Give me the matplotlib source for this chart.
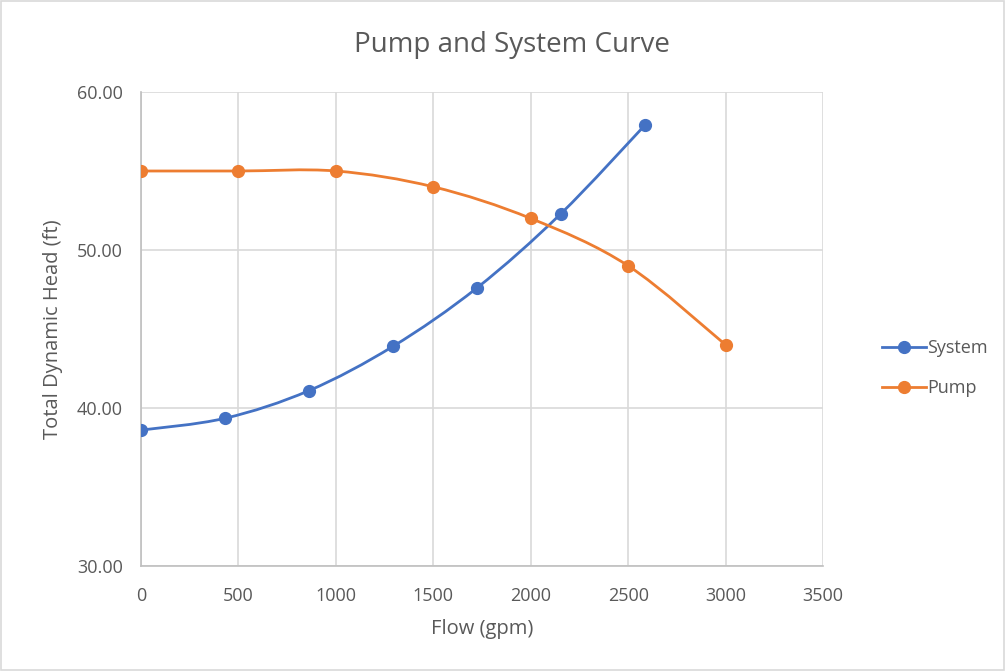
import numpy as np
from matplotlib import pyplot as plt
from matplotlib.path import Path
from matplotlib.patches import PathPatch, Rectangle
from matplotlib.lines import Line2D

plt.rcParams['font.family'] = ['Open Sans', 'DejaVu Sans']

system_flow = [0, 431, 862, 1293, 1724, 2155, 2586]
system_head = [38.6, 39.35, 41.1, 43.9, 47.6, 52.3, 57.9]
pump_flow = [0, 500, 1000, 1500, 2000, 2500, 3000]
pump_head = [55.0, 55.0, 55.0, 54.0, 52.0, 49.0, 44.0]

x_ticks = [0, 500, 1000, 1500, 2000, 2500, 3000, 3500]
y_ticks = [30, 40, 50, 60]

BLUE = "#4472C4"
ORANGE = "#ED7D31"
TEXT = "#595959"


def smooth_path(xs, ys):
    # Excel-like smoothed line: cubic bezier through points (Catmull-Rom control points)
    p = np.column_stack([xs, ys]).astype(float)
    n = len(p)
    verts = [p[0]]
    codes = [Path.MOVETO]
    for i in range(n - 1):
        p0 = p[i - 1] if i > 0 else p[i]
        p3 = p[i + 2] if i + 2 < n else p[i + 1]
        c1 = p[i] + (p[i + 1] - p0) / 6
        c2 = p[i + 1] - (p3 - p[i]) / 6
        verts += [c1, c2, p[i + 1]]
        codes += [Path.CURVE4] * 3
    return Path(verts, codes)


fig = plt.figure(figsize=(10.06, 6.71), dpi=100)
fig.patches.append(Rectangle((0.001, 0.001), 0.997, 0.997, transform=fig.transFigure,
                             fill=False, edgecolor="#d9d9d9", linewidth=1.2))

ax = fig.add_axes([141 / 1006, 1 - 566 / 671, 682 / 1006, 474 / 671])

for xs, ys, col, name in [(system_flow, system_head, BLUE, "System"),
                          (pump_flow, pump_head, ORANGE, "Pump")]:
    ax.add_patch(PathPatch(smooth_path(xs, ys), facecolor="none", edgecolor=col,
                           linewidth=2.0, zorder=3, capstyle="round"))
    ax.plot(xs, ys, linestyle="none", marker="o", markersize=8.5, color=col, zorder=4)

ax.set_xlim(0, 3500)
ax.set_ylim(30, 60)
ax.set_xticks(x_ticks)
ax.set_yticks(y_ticks)
ax.set_xticklabels([str(v) for v in x_ticks])
ax.set_yticklabels([f"{v:.2f}" for v in y_ticks])
ax.grid(True, color="#d9d9d9", linewidth=1.2)
ax.set_axisbelow(True)
for side in ["top", "right"]:
    ax.spines[side].set_visible(False)
for side in ["left", "bottom"]:
    ax.spines[side].set_color("#bfbfbf")
    ax.spines[side].set_linewidth(1.2)
ax.tick_params(length=0, labelsize=13, labelcolor=TEXT)
ax.tick_params(axis="x", pad=15)
ax.tick_params(axis="y", pad=13)

ax.set_xlabel("Flow (gpm)", fontsize=14.5, color=TEXT, labelpad=10)
ax.set_ylabel("Total Dynamic Head (ft)", fontsize=14.5, color=TEXT, labelpad=10)
fig.text(512 / 1006, 1 - 45 / 671, "Pump and System Curve", fontsize=20,
         color=TEXT, ha="center", va="center")

handles = [Line2D([], [], color=BLUE, linewidth=2.0, marker="o", markersize=8.5),
           Line2D([], [], color=ORANGE, linewidth=2.0, marker="o", markersize=8.5)]
fig.legend(handles, ["System", "Pump"], loc="center left",
           bbox_to_anchor=(866 / 1006, 1 - 368 / 671), frameon=False,
           fontsize=13, labelcolor=TEXT, handlelength=2.4, handletextpad=0.1,
           labelspacing=1.2)

plt.savefig("out.png", dpi=100)
